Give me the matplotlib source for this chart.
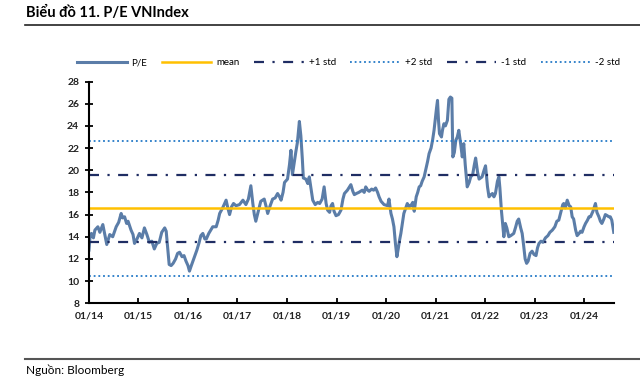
## Importing Libraries

import matplotlib.pyplot as plt
from matplotlib.lines import Line2D

## Data

years = [
    2014.00, 2014.02, 2014.05, 2014.09, 2014.12, 2014.18, 2014.22, 2014.28, 2014.32, 2014.36,
    2014.42, 2014.48, 2014.55, 2014.60, 2014.65, 2014.68, 2014.72, 2014.76, 2014.79, 2014.85,
    2014.89, 2014.92, 2014.97, 2015.02, 2015.07, 2015.12, 2015.17, 2015.22, 2015.27, 2015.32,
    2015.37, 2015.42, 2015.47, 2015.53, 2015.56, 2015.59, 2015.62, 2015.66, 2015.70, 2015.75,
    2015.79, 2015.83, 2015.88, 2015.92, 2015.96, 2016.00, 2016.03, 2016.06, 2016.10, 2016.14,
    2016.18, 2016.22, 2016.26, 2016.30, 2016.34, 2016.37, 2016.42, 2016.46, 2016.50, 2016.57,
    2016.61, 2016.64, 2016.70, 2016.74, 2016.77, 2016.81, 2016.84, 2016.88, 2016.92, 2016.97,
    2017.04, 2017.11, 2017.17, 2017.22, 2017.27, 2017.31, 2017.34, 2017.37, 2017.42, 2017.47,
    2017.54, 2017.58, 2017.61, 2017.66, 2017.71, 2017.76, 2017.81, 2017.85, 2017.88, 2017.92,
    2017.95, 2018.01, 2018.05, 2018.08, 2018.11, 2018.15, 2018.18, 2018.21, 2018.25, 2018.28,
    2018.31, 2018.33, 2018.38, 2018.42, 2018.45, 2018.49, 2018.52, 2018.57, 2018.62, 2018.66,
    2018.71, 2018.75, 2018.79, 2018.82, 2018.86, 2018.89, 2018.92, 2018.95, 2018.99, 2019.04,
    2019.09, 2019.13, 2019.16, 2019.22, 2019.29, 2019.33, 2019.36, 2019.40, 2019.45, 2019.52,
    2019.56, 2019.59, 2019.63, 2019.66, 2019.71, 2019.75, 2019.79, 2019.83, 2019.86, 2019.90,
    2019.96, 2020.03, 2020.06, 2020.08, 2020.10, 2020.13, 2020.16, 2020.19, 2020.22, 2020.25,
    2020.27, 2020.30, 2020.33, 2020.36, 2020.40, 2020.43, 2020.47, 2020.50, 2020.54, 2020.57,
    2020.61, 2020.64, 2020.67, 2020.70, 2020.73, 2020.77, 2020.80, 2020.84, 2020.87, 2020.91,
    2020.94, 2020.97, 2021.00, 2021.02, 2021.04, 2021.06, 2021.08, 2021.12, 2021.14, 2021.17,
    2021.20, 2021.24, 2021.27, 2021.30, 2021.33, 2021.35, 2021.38, 2021.41, 2021.44, 2021.47,
    2021.51, 2021.54, 2021.57, 2021.60, 2021.64, 2021.68, 2021.71, 2021.75, 2021.78, 2021.81,
    2021.85, 2021.88, 2021.91, 2021.94, 2021.98, 2022.01, 2022.05, 2022.08, 2022.12, 2022.15,
    2022.18, 2022.21, 2022.25, 2022.28, 2022.30, 2022.33, 2022.36, 2022.38, 2022.41, 2022.44,
    2022.48, 2022.52, 2022.58, 2022.62, 2022.65, 2022.68, 2022.72, 2022.75, 2022.78, 2022.81,
    2022.84, 2022.87, 2022.91, 2022.95, 2022.99, 2023.03, 2023.06, 2023.09, 2023.13, 2023.17,
    2023.22, 2023.27, 2023.31, 2023.36, 2023.41, 2023.45, 2023.49, 2023.53, 2023.57, 2023.59,
    2023.62, 2023.66, 2023.70, 2023.73, 2023.76, 2023.79, 2023.83, 2023.86, 2023.90, 2023.93,
    2023.96, 2024.00, 2024.03, 2024.07, 2024.10, 2024.13, 2024.18, 2024.23, 2024.26, 2024.30,
    2024.33, 2024.36, 2024.40, 2024.43, 2024.47, 2024.50, 2024.53, 2024.56, 2024.60,
]

pe = [
    12.8, 13.9, 14.3, 13.9, 14.6, 14.9, 14.4, 15.1, 14.2, 13.3,
    14.2, 14.0, 14.9, 15.3, 16.1, 15.7, 15.8, 15.2, 15.4, 14.6,
    14.2, 13.4, 13.8, 14.3, 13.9, 14.8, 14.2, 13.5, 13.6, 12.9,
    13.4, 13.5, 14.4, 14.8, 14.5, 13.0, 11.5, 11.4, 11.6, 12.0,
    12.5, 12.6, 12.2, 12.3, 11.8, 11.4, 10.9, 11.3, 11.8, 12.3,
    12.8, 13.4, 14.1, 14.3, 13.8, 13.8, 14.3, 14.6, 14.9, 14.9,
    15.5, 16.1, 16.6, 17.0, 17.3, 16.5, 16.0, 16.7, 17.0, 16.8,
    16.9, 17.3, 16.9, 17.4, 18.6, 17.0, 16.0, 15.4, 16.3, 17.2,
    17.4, 16.7, 16.1, 16.8, 17.4, 17.5, 17.9, 17.6, 17.3, 18.0,
    18.9, 19.2, 20.5, 21.8, 19.6, 20.8, 21.7, 22.5, 24.4, 23.1,
    21.0, 19.3, 19.2, 18.8, 19.4, 18.2, 17.3, 16.9, 17.1, 17.0,
    17.4, 18.5, 17.0, 16.4, 16.2, 16.8, 17.0, 16.3, 15.9, 16.0,
    16.4, 17.4, 17.9, 18.2, 18.7, 18.1, 17.8, 17.9, 18.0, 18.2,
    18.0, 18.5, 18.2, 18.1, 18.3, 18.2, 18.4, 18.0, 17.6, 17.2,
    16.9, 16.8, 17.4, 16.7, 16.1, 15.6, 14.9, 13.4, 12.2, 13.0,
    13.6, 14.3, 15.2, 16.1, 16.6, 17.0, 16.7, 16.8, 17.1, 16.3,
    17.6, 18.0, 18.5, 18.6, 19.0, 19.4, 20.0, 20.8, 21.5, 22.0,
    22.7, 23.6, 24.8, 25.6, 26.3, 24.5, 23.3, 23.0, 23.6, 24.2,
    24.0, 24.5, 26.4, 26.6, 26.5, 21.2, 21.6, 22.7, 23.0, 23.6,
    22.3, 21.2, 22.4, 20.5, 18.5, 18.9, 19.4, 19.6, 20.4, 21.1,
    19.8, 19.2, 19.3, 19.4, 20.0, 20.4, 18.5, 17.6, 17.8, 17.9,
    17.6, 17.9, 19.0, 19.4, 18.4, 16.4, 15.0, 14.0, 15.2, 14.8,
    14.0, 14.1, 14.3, 14.9, 15.4, 15.6, 14.8, 14.3, 13.2, 12.0,
    11.6, 11.8, 12.5, 12.7, 12.4, 12.3, 13.0, 13.4, 13.6, 13.5,
    13.9, 14.1, 14.4, 14.6, 14.9, 15.4, 15.5, 16.2, 16.9, 17.0,
    16.6, 17.3, 16.8, 16.7, 15.8, 15.6, 14.6, 14.1, 14.3, 14.5,
    14.4, 14.9, 15.2, 15.5, 15.8, 15.8, 16.3, 17.0, 16.2, 15.8,
    15.4, 15.2, 15.6, 16.0, 15.9, 15.8, 15.8, 15.5, 14.4,
]

mean_pe = 16.55
plus1_std = 19.59
plus2_std = 22.63
minus1_std = 13.51
minus2_std = 10.47

tick_years = list(range(2014, 2025))
tick_labels = ["01/14", "01/15", "01/16", "01/17", "01/18", "01/19",
               "01/20", "01/21", "01/22", "01/23", "01/24"]

## Colours

pe_color = "#5B7DA8"
mean_color = "#FFC000"
std1_color = "#1F2D63"
std2_color = "#2479C7"

## Figure

plt.rcParams["font.family"] = ["Lato", "DejaVu Sans"]

fig = plt.figure(figsize=(6.4, 3.81), dpi=100)
ax = fig.add_axes([0.139, 0.204, 0.82, 0.582])

ax.plot(years, pe, color=pe_color, lw=2.2, label="P/E")
ax.axhline(mean_pe, color=mean_color, lw=1.8, label="mean")
ax.axhline(plus1_std, color=std1_color, lw=1.6, ls=(0, (4.5, 3.8, 1, 3.8)), label="+1 std")
ax.axhline(plus2_std, color=std2_color, lw=1.3, ls=(0, (1, 1.6)), label="+2 std")
ax.axhline(minus1_std, color=std1_color, lw=1.6, ls=(0, (4.5, 3.8, 1, 3.8)), label="-1 std")
ax.axhline(minus2_std, color=std2_color, lw=1.3, ls=(0, (1, 1.6)), label="-2 std")

ax.set_xlim(2014.0, 2024.6)
ax.set_ylim(8, 28)
ax.set_yticks(range(8, 29, 2))
ax.set_xticks(tick_years)
ax.set_xticklabels(tick_labels)

for s in ["top", "right"]:
    ax.spines[s].set_visible(False)
for s in ["left", "bottom"]:
    ax.spines[s].set_linewidth(1.5)
    ax.spines[s].set_color("black")

ax.tick_params(axis="y", direction="inout", length=6, width=1.3, labelsize=7.5,
               labelcolor="#222222", pad=4)
ax.tick_params(axis="x", direction="in", length=3.5, width=1.3, labelsize=7.5,
               labelcolor="#222222", pad=6)
for lab in ax.get_xticklabels() + ax.get_yticklabels():
    lab.set_fontweight("bold")

## Legend

fig.legend(loc="center", bbox_to_anchor=(0.545, 0.835), ncol=6, frameon=False,
           fontsize=7, handlelength=5.1, handletextpad=0.5, columnspacing=1.5)

## Title, rules and source

fig.text(0.041, 0.966, "Biểu đồ 11. P/E VNIndex", fontsize=10.5, fontweight="bold",
         va="center", ha="left")
fig.add_artist(Line2D([0.039, 1.0], [0.934, 0.934], color="#222222", lw=1.2))
fig.add_artist(Line2D([0.039, 1.0], [0.058, 0.058], color="#555555", lw=1.5))
fig.text(0.041, 0.027, "Nguồn: Bloomberg", fontsize=8.5, va="center", ha="left")

fig.savefig("out.png", dpi=100)
